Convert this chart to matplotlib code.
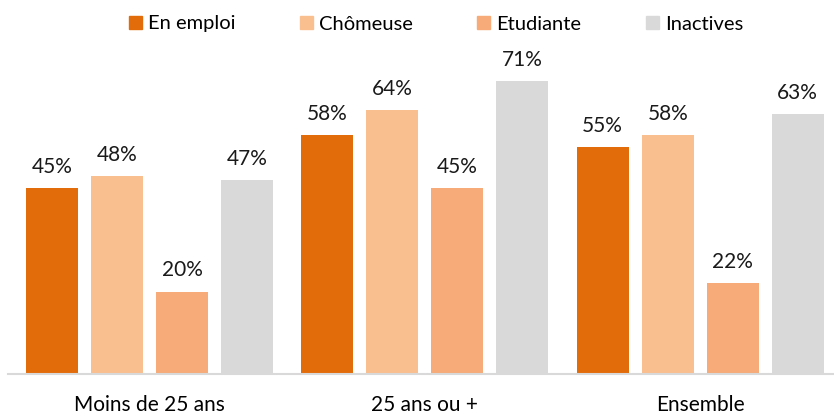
import numpy as np
import matplotlib.pyplot as plt
from matplotlib.patches import Patch

# données
categories = ["Moins de 25 ans", "25 ans ou +", "Ensemble"]
series = ["En emploi", "Chômeuse", "Etudiante", "Inactives"]
en_emploi = [45, 58, 55]
chomeuse = [48, 64, 58]
etudiante = [20, 45, 22]
inactives = [47, 71, 63]

values = [en_emploi, chomeuse, etudiante, inactives]
colors = ["#E36C0A", "#FABF8F", "#F7AB79", "#D9D9D9"]

plt.rcParams["font.family"] = ["Lato", "DejaVu Sans"]

fig = plt.figure(figsize=(8.34, 4.17), dpi=100)
ax = fig.add_axes([8 / 834, 1 - 374 / 417, 826 / 834, 330 / 417])

x = np.arange(len(categories))
step = 0.236
width = 0.189
for i, (vals, col) in enumerate(zip(values, colors)):
    pos = x + (i - 1.5) * step
    bars = ax.bar(pos, vals, width=width, color=col)
    for b, v in zip(bars, vals):
        ax.annotate(f"{v}%", (b.get_x() + b.get_width() / 2, v),
                    xytext=(0, 8), textcoords="offset points",
                    ha="center", va="bottom", fontsize=15, color="#1a1a1a")

ax.set_xlim(-0.514, 2.486)
ax.set_ylim(0, 80)
ax.set_yticks([])
ax.set_xticks(x)
ax.set_xticklabels(categories, fontsize=15)
ax.tick_params(axis="x", length=0, pad=15)
for s in ["top", "right", "left"]:
    ax.spines[s].set_visible(False)
ax.spines["bottom"].set_color("#D9D9D9")
ax.spines["bottom"].set_linewidth(1.5)

handles = [Patch(color=c, label=s) for s, c in zip(series, colors)]
fig.legend(handles=handles, loc="center", bbox_to_anchor=(436 / 834, 1 - 24 / 417),
           ncol=4, frameon=False, fontsize=14.5, handlelength=0.65, handleheight=0.65,
           handletextpad=0.3, columnspacing=3.2)

fig.savefig("out.png", dpi=100)
